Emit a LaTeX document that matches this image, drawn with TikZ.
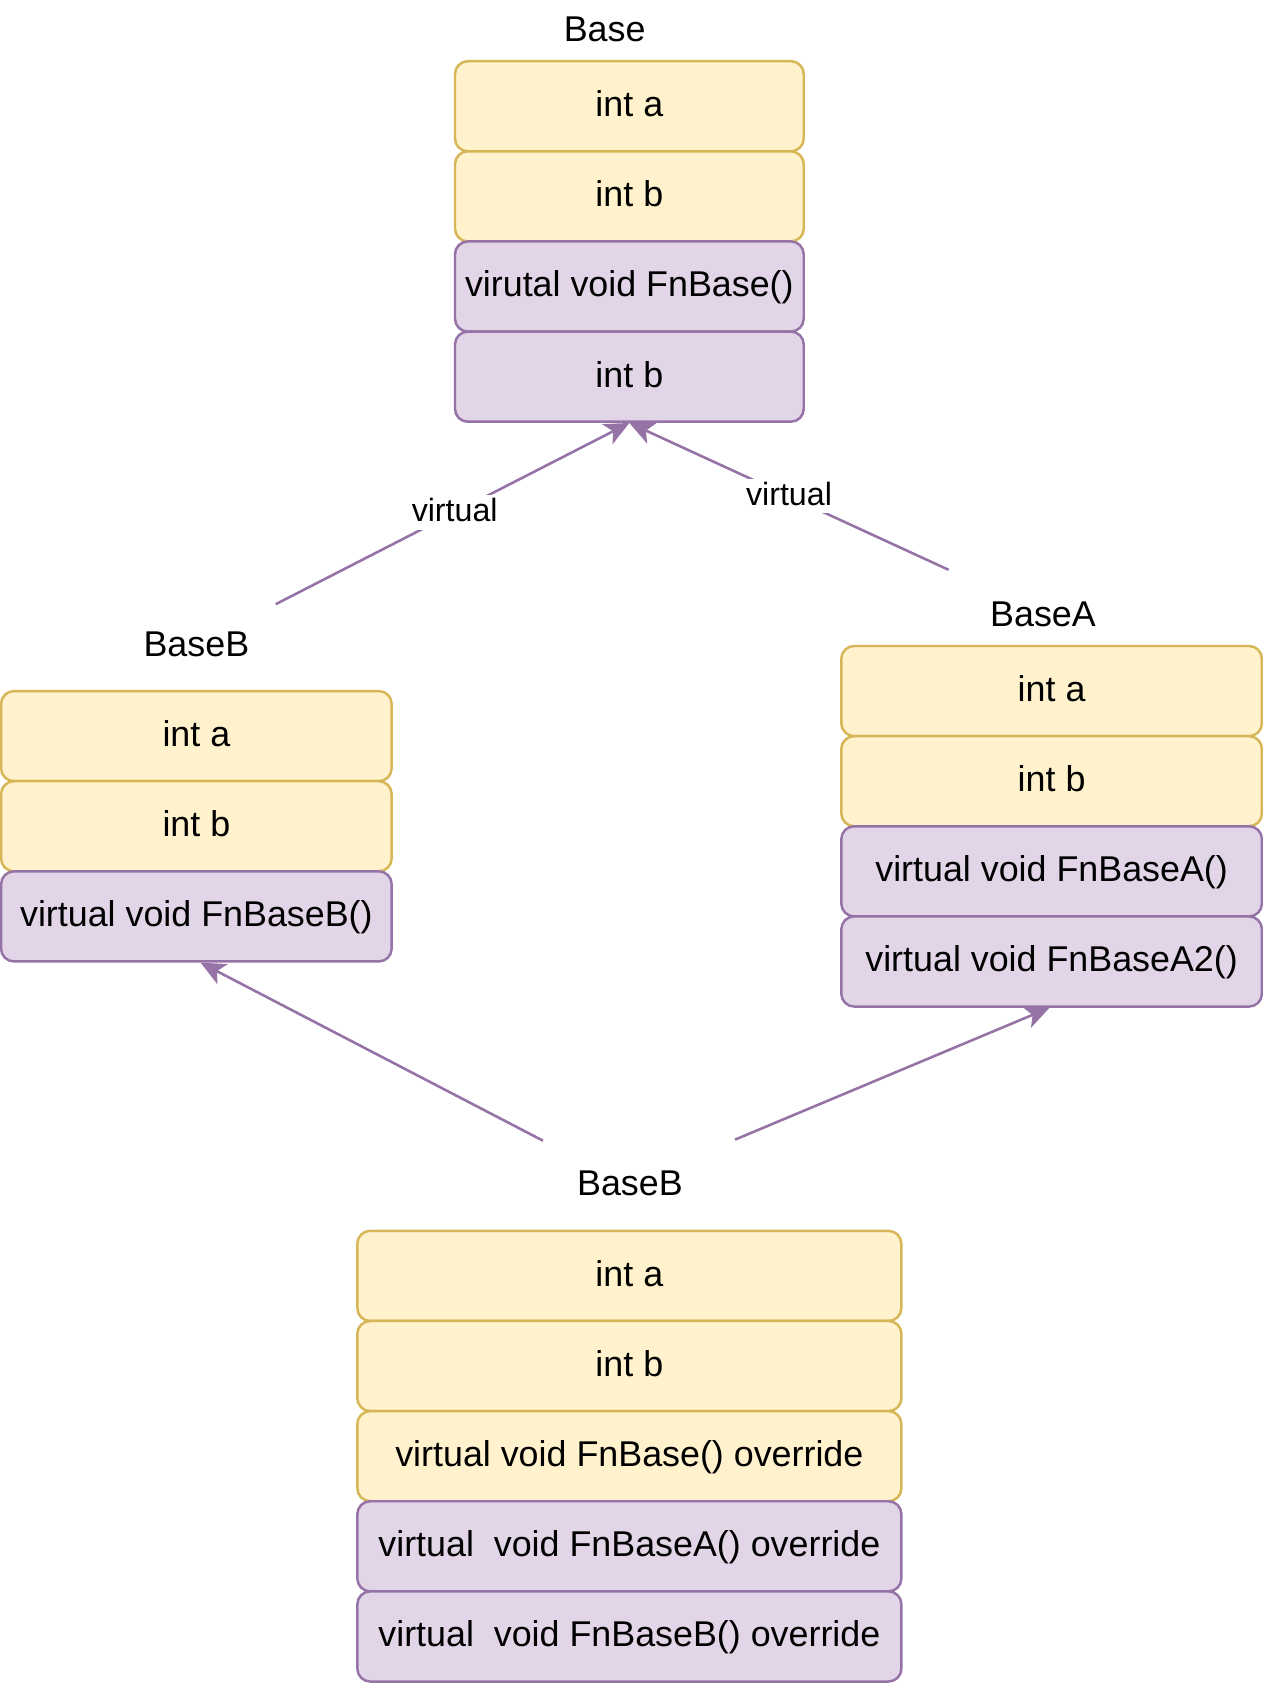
\documentclass[tikz,border=0pt]{standalone}
\usepackage{fontspec}
\setmainfont{Liberation Sans}
\usetikzlibrary{arrows.meta}
\definecolor{yfill}{HTML}{FFF2CC}
\definecolor{ydraw}{HTML}{D6B656}
\definecolor{pfill}{HTML}{E1D5E7}
\definecolor{pdraw}{HTML}{9673A6}
\begin{document}
\begin{tikzpicture}[x=1pt,y=-1pt,
  cell/.style={rounded corners=12pt, line width=2.3pt, inner sep=0pt, minimum height=84pt,
    font=\fontsize{33.4}{40}\selectfont, text height=24pt, text depth=4.7pt, align=center},
  ycell/.style={cell, draw=ydraw, fill=yfill},
  pcell/.style={cell, draw=pdraw, fill=pfill},
  title/.style={inner sep=0pt, font=\fontsize{33.4}{40}\selectfont, text height=24pt, text depth=4.7pt},
  edge/.style={draw=pdraw, line width=2.4pt, -{Stealth[length=23pt,width=21pt,inset=6pt]}},
  lbl/.style={fill=white, inner sep=3pt, font=\fontsize{30}{36}\selectfont, text height=21.6pt, text depth=4.2pt}
]
\useasboundingbox (0,0) rectangle (1177,1568.4);

% Base
\node[title] (tBase) at (563.5,29) {Base};
\node[ycell, minimum width=325pt] (b1) at (586.5,99) {int a};
\node[ycell, minimum width=325pt] (b2) at (586.5,183) {int b};
\node[pcell, minimum width=325pt] (b3) at (586.5,267) {virutal void FnBase()};
\node[pcell, minimum width=325pt] (b4) at (586.5,351) {int b};

% BaseB (left)
\node[title] (tL) at (183,602) {BaseB};
\node[ycell, minimum width=364pt] (l1) at (183,686) {int a};
\node[ycell, minimum width=364pt] (l2) at (183,770) {int b};
\node[pcell, minimum width=364pt] (l3) at (183,854) {virtual void FnBaseB()};

% BaseA (right)
\node[title] (tA) at (972,574) {BaseA};
\node[ycell, minimum width=392pt] (a1) at (980,644) {int a};
\node[ycell, minimum width=392pt] (a2) at (980,728) {int b};
\node[pcell, minimum width=392pt] (a3) at (980,812) {virtual void FnBaseA()};
\node[pcell, minimum width=392pt] (a4) at (980,896) {virtual void FnBaseA2()};

% bottom BaseB
\node[title] (tD) at (587,1104) {BaseB};
\node[ycell, minimum width=507pt] (d1) at (586.5,1189) {int a};
\node[ycell, minimum width=507pt] (d2) at (586.5,1273) {int b};
\node[ycell, minimum width=507pt] (d3) at (586.5,1357) {virtual void FnBase() override};
\node[pcell, minimum width=507pt] (d4) at (586.5,1441) {virtual\ \ void FnBaseA() override};
\node[pcell, minimum width=507pt] (d5) at (586.5,1525) {virtual\ \ void FnBaseB() override};

% edges
\coordinate (sL) at (257,563);
\coordinate (sR) at (884,531);
\coordinate (sBL) at (506,1063);
\coordinate (sBR) at (685,1062);
\draw[edge] (sL) -- node[lbl, pos=0.506] (vL) {virtual} (b4.south);
\draw[edge] (sR) -- node[lbl, pos=0.5] (vR) {virtual} (b4.south);
\draw[edge] (sBL) -- ([xshift=4pt]l3.south);
\draw[edge] (sBR) -- ([xshift=-2pt]a4.south);
\end{tikzpicture}
\end{document}
